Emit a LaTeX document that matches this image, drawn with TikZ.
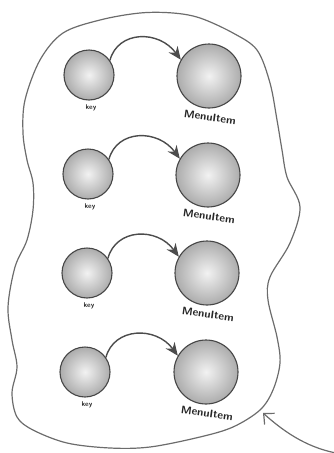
\documentclass[tikz,border=0pt]{standalone}
\usetikzlibrary{arrows.meta}
\begin{document}
\begin{tikzpicture}[x=1pt,y=-1pt,
  keyball/.style={circle,minimum size=50pt,inner sep=0pt,shading=radial,inner color=gray!10,outer color=gray!65,draw=gray!55!black,line width=1.1pt},
  itemball/.style={circle,minimum size=64pt,inner sep=0pt,shading=radial,inner color=gray!10,outer color=gray!65,draw=gray!55!black,line width=1.1pt},
  keylabel/.style={font=\sffamily\bfseries\fontsize{7}{7}\selectfont,text=black!85},
  itemlabel/.style={font=\sffamily\bfseries\fontsize{11}{11}\selectfont,text=black!85,rotate=-8},
  link/.style={draw=black!70,line width=1.4pt,-{Stealth[length=13pt,width=11pt]}},
  blob/.style={draw=gray!85!black,line width=1.2pt},
  pointer/.style={draw=gray!85!black,line width=1.2pt,-{Straight Barb[length=8pt,width=15pt]}}]
\useasboundingbox (0,0) rectangle (333,453);
% outline
\draw[blob] plot[smooth cycle, tension=0.55] coordinates {
 (140,13) (173,13) (200,18) (233,33) (257,50) (270,83) (277,120) (282,150)
 (287,177) (300,207) (290,243) (270,277) (268,300) (277,337) (280,363)
 (273,390) (260,410) (233,427) (200,437) (150,447) (110,448) (67,443)
 (33,430) (17,417) (12,393) (17,367) (12,340) (8,307) (15,267) (27,240)
 (33,210) (33,183) (27,160) (23,133) (25,100) (40,60) (63,33) (100,20)};
% rows
\foreach \i/\kx/\ky/\mx/\my in {1/89/75/209/76, 2/88/174/208/175, 3/87/273/207/273, 4/85/372/206/372}{
  \node[keyball] (k\i) at (\kx,\ky) {};
  \node[itemball] (m\i) at (\mx,\my) {};
  \node[keylabel] (kl\i) at (\kx+2,\ky+33) {key};
  \node[itemlabel] (ml\i) at (\mx+1,\my+41) {MenuItem};
  \draw[link] (k\i.35) .. controls +(8,-30) and +(-22,-30) .. (m\i.150);
}
% pointer
\coordinate (pstart) at (336,453);
\coordinate (ptip) at (263,413);
\draw[pointer] (pstart) .. controls (305,447) and (282,430) .. (ptip);
\end{tikzpicture}
\end{document}
